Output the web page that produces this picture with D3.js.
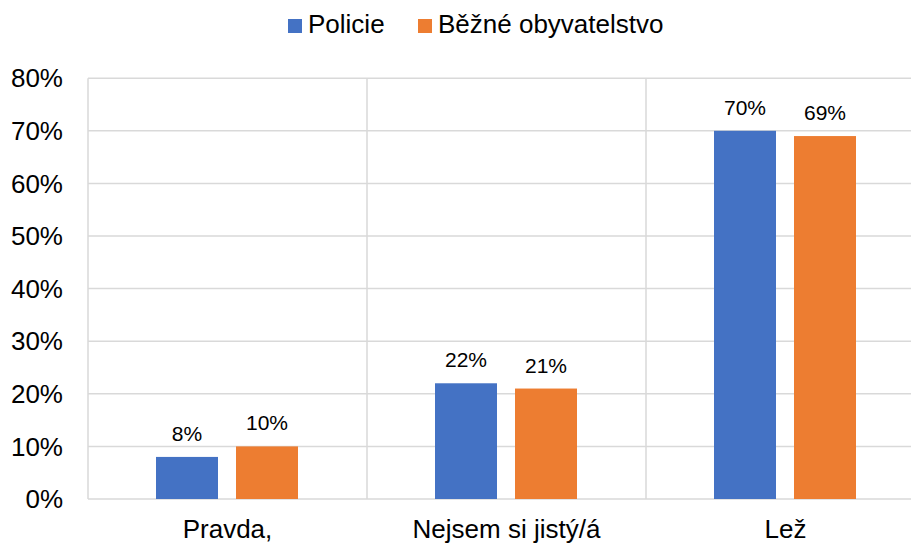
<!DOCTYPE html>
<html>
<head>
  <meta charset="utf-8">
  <title>Policie vs. běžné obyvatelstvo</title>
  <script src="https://d3js.org/d3.v7.min.js"></script>
  <style>
    body { margin: 0; background: #fff; }
    text { font-family: "Liberation Sans", Arial, sans-serif; fill: #000; }
  </style>
</head>
<body>
  <div id="chart"></div>
  <script>
    // data
    var categories = ['Pravda,', 'Nejsem si jistý/á', 'Lež'];
    var series = ['Policie', 'Běžné obyvatelstvo'];
    var policie = [0.08, 0.22, 0.70];
    var obyvatelstvo = [0.10, 0.21, 0.69];
    var yTicks = [0, 0.1, 0.2, 0.3, 0.4, 0.5, 0.6, 0.7, 0.8];
    var colors = ['#4472C4', '#ED7D31'];

    var width = 911, height = 544;
    var plotLeft = 88, plotRight = 925, plotTop = 78.2, plotBottom = 499;

    var svg = d3.select('#chart').append('svg')
      .attr('width', width)
      .attr('height', height);

    var x0 = d3.scaleBand().domain(categories).range([plotLeft, plotRight]);
    var x1 = d3.scaleBand().domain(series).range([68, 210]).paddingInner(0.225);
    var y = d3.scaleLinear().domain([0, 0.8]).range([plotBottom, plotTop]);

    // horizontal gridlines
    svg.append('g').selectAll('line')
      .data(yTicks)
      .enter().append('line')
        .attr('x1', plotLeft).attr('x2', plotRight)
        .attr('y1', function (d) { return y(d); })
        .attr('y2', function (d) { return y(d); })
        .attr('stroke', '#d9d9d9').attr('stroke-width', 1.5);

    // vertical separators between categories
    svg.append('g').selectAll('line')
      .data(categories)
      .enter().append('line')
        .attr('x1', function (d) { return x0(d); })
        .attr('x2', function (d) { return x0(d); })
        .attr('y1', plotTop).attr('y2', plotBottom)
        .attr('stroke', '#d9d9d9').attr('stroke-width', 1.5);

    // y axis labels
    svg.append('g').selectAll('text')
      .data(yTicks)
      .enter().append('text')
        .attr('x', 63)
        .attr('y', function (d) { return y(d); })
        .attr('dy', '0.35em')
        .attr('text-anchor', 'end')
        .style('font-size', '26px')
        .text(function (d) { return d3.format('.0%')(d); });

    // category labels
    svg.append('g').selectAll('text')
      .data(categories)
      .enter().append('text')
        .attr('x', function (d) { return x0(d) + x0.bandwidth() / 2; })
        .attr('y', 538)
        .attr('text-anchor', 'middle')
        .style('font-size', '26px')
        .text(function (d) { return d; });

    // bars
    var rows = categories.map(function (c, i) {
      return { cat: c, vals: [policie[i], obyvatelstvo[i]] };
    });

    var groups = svg.append('g').selectAll('g')
      .data(rows)
      .enter().append('g')
        .attr('transform', function (d) { return 'translate(' + x0(d.cat) + ',0)'; });

    var cells = groups.selectAll('g')
      .data(function (d) {
        return series.map(function (s, j) { return { s: s, j: j, v: d.vals[j] }; });
      })
      .enter().append('g');

    cells.append('rect')
      .attr('x', function (d) { return x1(d.s); })
      .attr('width', x1.bandwidth())
      .attr('y', function (d) { return y(d.v); })
      .attr('height', function (d) { return plotBottom - y(d.v); })
      .attr('fill', function (d) { return colors[d.j]; });

    cells.append('text')
      .attr('x', function (d) { return x1(d.s) + x1.bandwidth() / 2; })
      .attr('y', function (d) { return y(d.v) - 16; })
      .attr('text-anchor', 'middle')
      .style('font-size', '21px')
      .text(function (d) { return Math.round(d.v * 100) + '%'; });

    // legend
    var legendX = [288, 418];
    var legend = svg.append('g').selectAll('g')
      .data(series)
      .enter().append('g')
        .attr('transform', function (d, i) { return 'translate(' + legendX[i] + ',0)'; });

    legend.append('rect')
      .attr('x', 0).attr('y', 19)
      .attr('width', 14).attr('height', 14)
      .attr('fill', function (d, i) { return colors[i]; });

    legend.append('text')
      .attr('x', 20).attr('y', 33)
      .style('font-size', '26px')
      .text(function (d) { return d; });
  </script>
</body>
</html>
